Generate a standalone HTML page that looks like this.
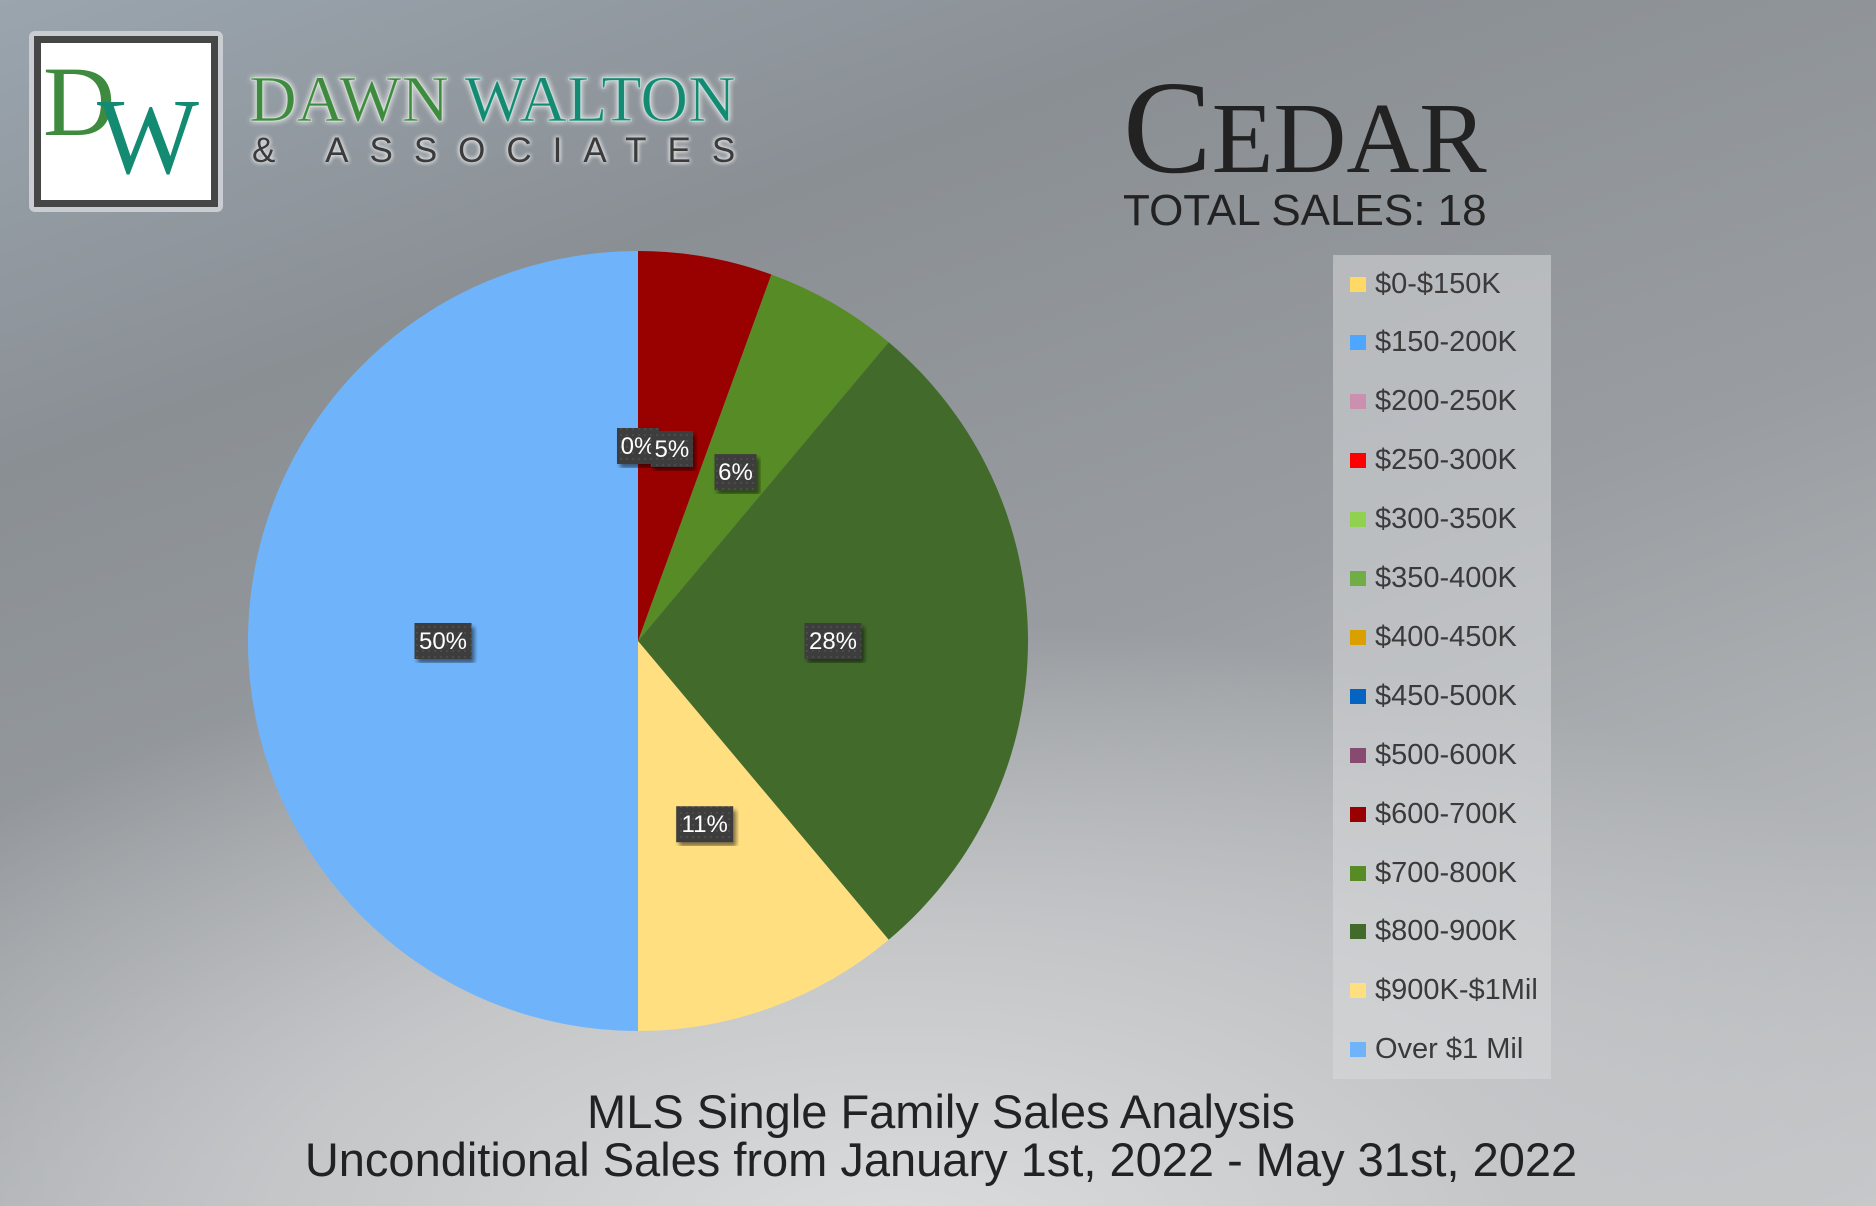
<!DOCTYPE html>
<html><head><meta charset="utf-8"><style>
body{margin:0}
#page{position:relative;width:1876px;height:1206px;overflow:hidden;font-family:"Liberation Sans",sans-serif;
background:radial-gradient(ellipse 1400px 700px at 900px 1250px,#dcdddf 0%,#c4c6c8 45%,rgba(160,164,168,0) 90%),linear-gradient(160deg,#9aa5ae 0%,#8a8f94 25%,#999da1 55%,#c7c9cb 100%);}
.abs{position:absolute}
</style></head><body>
<div id="page">
<div class="abs" style="left:29px;top:31px;width:194px;height:181px;background:#c9ccd0;border-radius:6px">
 <div style="position:absolute;left:5px;top:5px;width:184px;height:171px;background:#464646"></div>
 <div style="position:absolute;left:12px;top:12px;width:170px;height:157px;background:#fff;overflow:hidden">
  <span style="position:absolute;left:2px;top:4px;font:100px 'Liberation Serif',serif;color:#3e8a3e;line-height:110px">D</span>
  <span style="position:absolute;left:56px;top:40px;font:108px 'Liberation Serif',serif;color:#138a72;line-height:110px">W</span>
 </div>
</div>
<div class="abs" style="left:249px;top:62px;font:66px 'Liberation Serif',serif;white-space:nowrap;-webkit-text-stroke:1px #ffffff88;text-shadow:0 0 6px #d0d2d4,0 0 6px #d0d2d4,0 0 6px #d0d2d4"><span style="color:#3e8a3e">DAWN</span> <span style="color:#138a72">WALTON</span></div>
<div class="abs" style="left:252px;top:131px;font:35px 'Liberation Sans',sans-serif;color:#3b3b3b;letter-spacing:21px;white-space:nowrap;text-shadow:0 0 5px #d8dadc,0 0 5px #d8dadc,0 0 5px #d8dadc">&amp; ASSOCIATES</div>
<div class="abs" style="left:1123px;top:62px;font:133px 'Liberation Serif',serif;color:#222;white-space:nowrap;line-height:130px">C<span style="font-size:101px">EDAR</span></div>
<div class="abs" style="left:1123px;top:186px;font:44px 'Liberation Sans',sans-serif;color:#222;white-space:nowrap">TOTAL SALES: 18</div>
<svg class="abs" style="left:0;top:0" width="1876" height="1206" id="chart">
 <defs><pattern id="dots" width="6" height="6" patternUnits="userSpaceOnUse"><rect width="6" height="6" fill="#3e3e3e"/><circle cx="3" cy="3" r="0.9" fill="#555"/></pattern>
 <filter id="sh"><feDropShadow dx="3" dy="4" stdDeviation="2" flood-opacity="0.5"/></filter></defs>
 <g id="slices"></g><g id="labels"></g>
</svg>
<div class="abs" id="legend" style="left:1333px;top:255px;width:218px;height:824px;background:rgba(215,217,219,0.55)"></div>
<div class="abs" style="left:0;width:1882px;top:1088px;text-align:center;font:47px 'Liberation Sans',sans-serif;color:#222;line-height:48px">MLS Single Family Sales Analysis<br>Unconditional Sales from January 1st, 2022 - May 31st, 2022</div>
</div>
<script>
const categories=["$0-$150K","$150-200K","$200-250K","$250-300K","$300-350K","$350-400K","$400-450K","$450-500K","$500-600K","$600-700K","$700-800K","$800-900K","$900K-$1Mil","Over $1 Mil"];
const counts=[0,0,0,0,0,0,0,0,0,1,1,5,2,9];
const colors=["#ffd966","#4da6ff","#c990b0","#ff0000","#92d050","#70ad47","#d9a000","#0563c1","#884a6e","#990000","#568b25","#426b2b","#ffdf80","#6fb4fb"];
const printed=["","","","","","","","","0%","5%","6%","28%","11%","50%"];
const svgNS="http://www.w3.org/2000/svg";
const cx=638,cy=641,R=390;
const total=counts.reduce((a,b)=>a+b,0);
function pt(a,r){return [cx+r*Math.sin(a),cy-r*Math.cos(a)];}
let acc=0;
const gs=document.getElementById('slices'),gl=document.getElementById('labels');
const labelItems=[];
counts.forEach((v,i)=>{
 const a0=acc/total*2*Math.PI;acc+=v;const a1=acc/total*2*Math.PI;
 if(v>0){
  const p0=pt(a0,R),p1=pt(a1,R);
  const path=document.createElementNS(svgNS,'path');
  path.setAttribute('d',`M${cx},${cy}L${p0[0]},${p0[1]}A${R},${R} 0 ${a1-a0>Math.PI?1:0} 1 ${p1[0]},${p1[1]}Z`);
  path.setAttribute('fill',colors[i]);
  
  
  gs.appendChild(path);
 }
 if(printed[i]) labelItems.push([(a0+a1)/2,printed[i]]);
});
labelItems.forEach(([a,t])=>{
 const p=pt(a,R*0.5);const w=t.length*15+12,h=36;
 const g=document.createElementNS(svgNS,'g');
 
 
 g.innerHTML=`<rect x="${p[0]-w/2}" y="${p[1]-h/2}" width="${w}" height="${h}" fill="url(#dots)" filter="url(#sh)"/><text x="${p[0]}" y="${p[1]+8}" text-anchor="middle" font-family="Liberation Sans, sans-serif" font-size="24" fill="#fff">${t}</text>`;
 gl.appendChild(g);
});
const lg=document.getElementById('legend');
categories.forEach((c,i)=>{
 const d=document.createElement('div');
 
 
 d.style.cssText=`position:absolute;left:17px;top:${14+i*58.9}px;height:30px;display:flex;align-items:center;font:29px 'Liberation Sans',sans-serif;color:#3a3a3a;white-space:nowrap`;
 d.innerHTML=`<span style="display:inline-block;width:16px;height:15px;background:${colors[i]};margin-right:9px"></span>${c}`;
 lg.appendChild(d);
});
</script>
</body></html>
